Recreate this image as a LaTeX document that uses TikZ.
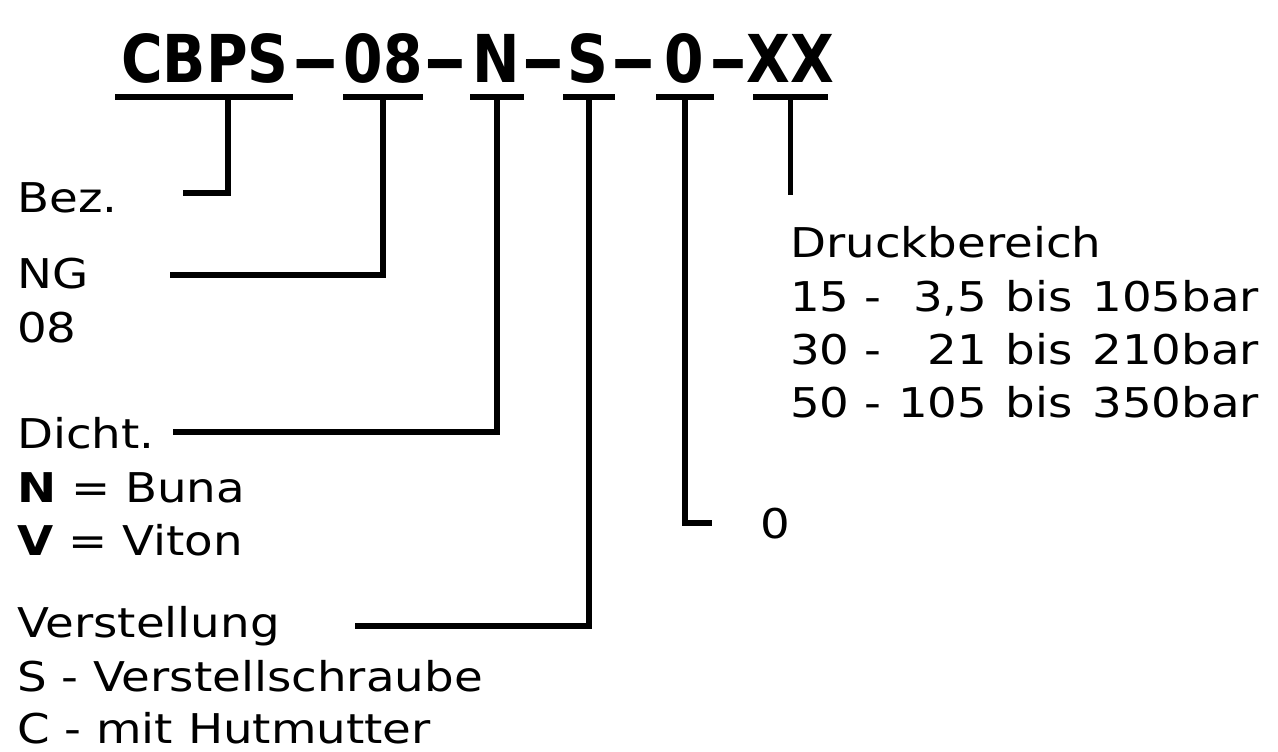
\documentclass[tikz,border=0pt]{standalone}
\usepackage{graphicx}
\usepackage{fontspec}
\setmainfont{DejaVu Sans}[FakeStretch=1.14]
\newfontfamily\titlefont{DejaVu Sans}[FakeStretch=0.86]
\begin{document}
\begin{tikzpicture}[x=1pt,y=-1pt,
  ttl/.style={font=\titlefont\bfseries\fontsize{66}{66}\selectfont, inner sep=0pt, anchor=base},
  tdash/.style={font=\titlefont\bfseries\fontsize{64}{64}\selectfont, inner sep=0pt, anchor=base},
  ubar/.style={fill=black, inner sep=0pt, minimum height=6pt},
  lbl/.style={font=\fontsize{41}{49}\selectfont, inner sep=0pt, anchor=base west},
  conn/.style={line width=5.5pt, line join=miter}]
\fill[white] (0,0) rectangle (1278,752);
\useasboundingbox (0,0) rectangle (1278,752);
% title segments
\node[ttl] (t1) at (205,82) {CBPS};
\node[tdash] (d1) at (316,82) {\scalebox{2.2}[1]{-}};
\node[ttl] (t2) at (383,82) {08};
\node[tdash] (d2) at (445,82) {\scalebox{2.0}[1]{-}};
\node[ttl] (t3) at (496,82) {N};
\node[tdash] (d3) at (543,82) {\scalebox{2.0}[1]{-}};
\node[ttl] (t4) at (588,82) {S};
\node[tdash] (d4) at (633,82) {\scalebox{2.1}[1]{-}};
\node[ttl] (t5) at (684,82) {0};
\node[tdash] (d5) at (728,82) {\scalebox{1.75}[1]{-}};
\node[ttl] (t6) at (790,82) {XX};
% underlines
\node[ubar, minimum width=178pt] (u1) at (204,97) {};
\node[ubar, minimum width=80pt] (u2) at (383,97) {};
\node[ubar, minimum width=54pt] (u3) at (497,97) {};
\node[ubar, minimum width=52pt] (u4) at (589,97) {};
\node[ubar, minimum width=58pt] (u5) at (685,97) {};
\node[ubar, minimum width=75pt] (u6) at (790.5,97) {};
% labels
\node[lbl] (bez) at (17,212) {Bez.};
\node[lbl] (ng) at (17,288) {NG};
\node[lbl] (ng2) at (17,342) {08};
\node[lbl] (dicht) at (17,448) {Dicht.};
\node[lbl] (buna) at (17,502) {\textbf{N} = Buna};
\node[lbl] (viton) at (17,555) {\textbf{V} = Viton};
\node[lbl] (verst) at (17,637) {Verstellung};
\node[lbl] (vs) at (17,691) {S - Verstellschraube};
\node[lbl] (hut) at (17,743) {C - mit Hutmutter};
\node[lbl] (druck) at (790,257) {Druckbereich};
\node[lbl] (r15) at (790,311) {15 -\makebox[106pt][r]{3,5}\hspace{18pt}bis\hspace{20pt}105bar};
\node[lbl] (r30) at (790,364) {30 -\makebox[106pt][r]{21}\hspace{18pt}bis\hspace{20pt}210bar};
\node[lbl] (r50) at (790,417) {50 -\makebox[106pt][r]{105}\hspace{18pt}bis\hspace{20pt}350bar};
\node[lbl] (null) at (760,538) {0};
% connector ends
\coordinate (bezend) at (183,193);
\coordinate (ngend) at (170,275);
\coordinate (dichtend) at (173,432);
\coordinate (verstend) at (355,626);
\coordinate (nullend) at (712,523);
\coordinate (xxend) at (790.5,195);
% connectors
\draw[conn] ([xshift=24pt]u1.center) |- (bezend);
\draw[conn] (u2.center) |- (ngend);
\draw[conn] (u3.center) |- (dichtend);
\draw[conn] (u4.center) |- (verstend);
\draw[conn] (u5.center) |- (nullend);
\draw[conn] (u6.center) -- (xxend);
\end{tikzpicture}
\end{document}
